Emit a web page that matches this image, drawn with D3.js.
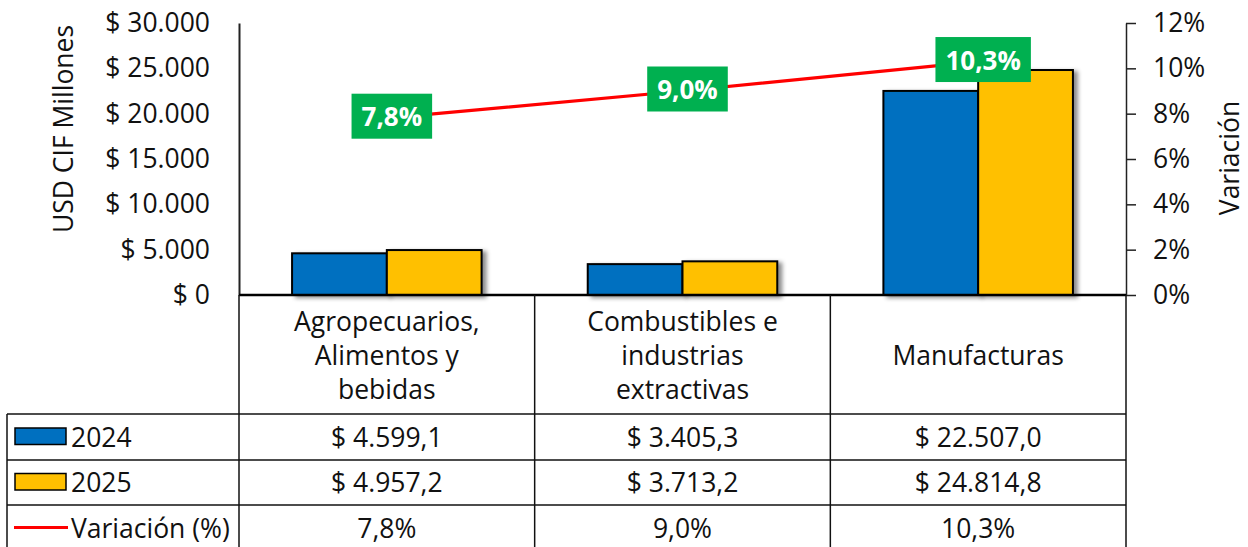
<!DOCTYPE html>
<html>
<head>
<meta charset="utf-8">
<script src="https://cdn.jsdelivr.net/npm/d3@7"></script>
<style>
  html, body { margin: 0; padding: 0; background: #fff; }
  svg { display: block; font-family: "Open Sans", sans-serif; }
</style>
</head>
<body>
<svg id="chart" width="1248" height="547"></svg>
<script>
// ---- Data ----
const categories = ["Agropecuarios, Alimentos y bebidas", "Combustibles e industrias extractivas", "Manufacturas"];
const categoryLines = [["Agropecuarios,", "Alimentos y", "bebidas"], ["Combustibles e", "industrias", "extractivas"], ["Manufacturas"]];
const seriesNames = ["2024", "2025"];
const values2024 = [4599.1, 3405.3, 22507.0];
const values2025 = [4957.2, 3713.2, 24814.8];
const variacion = [7.8, 9.0, 10.3];
const variacionName = "Variación (%)";
const leftTicks = [0, 5000, 10000, 15000, 20000, 25000, 30000];
const rightTicks = [0, 2, 4, 6, 8, 10, 12];
const leftTitle = "USD CIF Millones";
const rightTitle = "Variación";

// ---- Style ----
const colors = ["#0070C0", "#FFC000"];
const lineColor = "#FF0000";
const labelBg = "#00B050";
const textColor = "#111";
const fs = 26.5;

const loc = d3.formatLocale({decimal: ",", thousands: ".", grouping: [3], currency: ["$ ", ""]});
const fmtMoney = loc.format("$,.1f");
const fmtTick = loc.format("$,.0f");
const fmtPct1 = v => loc.format(".1f")(v) + "%";

const svg = d3.select("#chart");
const L = 239, R = 1126, T = 23, B = 295;
const rowLines = [414, 460, 505, 551];
const tableLeft = 7;

const defs = svg.append("defs");
const f = defs.append("filter").attr("id", "shadow").attr("x", "-20%").attr("y", "-20%").attr("width", "150%").attr("height", "150%");
f.append("feDropShadow").attr("dx", 4).attr("dy", 2).attr("stdDeviation", 2.2).attr("flood-color", "#000").attr("flood-opacity", 0.45);

const x = d3.scaleBand().domain(categories).range([L, R]).padding(0);
const x1 = d3.scaleBand().domain(seriesNames).range([0, x.bandwidth()]).paddingInner(0).paddingOuter(0.56);
const y = d3.scaleLinear().domain([0, 30000]).range([B, T]);
const y2 = d3.scaleLinear().domain([0, 12]).range([B, T]);

// ---- Bars ----
const seriesVals = [values2024, values2025];
const barData = [];
categories.forEach((c, i) => seriesNames.forEach((s, j) => barData.push({c, s, v: seriesVals[j][i], j})));
svg.append("g").selectAll("rect").data(barData).join("rect")
  .attr("x", d => x(d.c) + x1(d.s))
  .attr("y", d => y(d.v))
  .attr("width", x1.bandwidth())
  .attr("height", d => y(0) - y(d.v))
  .attr("fill", d => colors[d.j])
  .attr("stroke", "#000")
  .attr("stroke-width", 2)
  .attr("filter", "url(#shadow)");

// ---- Axes ----
const gl = svg.append("g").attr("transform", `translate(${L},0)`)
  .call(d3.axisLeft(y).tickValues(leftTicks).tickFormat(fmtTick).tickSize(0).tickPadding(29));
gl.select(".domain").attr("stroke", "#222").attr("stroke-width", 2);
gl.selectAll("text").attr("font-size", fs).attr("fill", textColor).attr("font-family", "Open Sans");

const gr = svg.append("g").attr("transform", `translate(${R},0)`)
  .call(d3.axisRight(y2).tickValues(rightTicks).tickFormat(d => d + "%").tickSizeInner(10).tickSizeOuter(0).tickPadding(17));
gr.select(".domain").attr("stroke", "#222").attr("stroke-width", 1.5);
gr.selectAll(".tick line").attr("stroke", "#222").attr("stroke-width", 1.5);
gr.selectAll("text").attr("font-size", fs).attr("fill", textColor).attr("font-family", "Open Sans");

// x axis baseline
svg.append("line").attr("x1", L).attr("x2", R).attr("y1", y(0)).attr("y2", y(0))
  .attr("stroke", "#000").attr("stroke-width", 2.5);

// axis titles
svg.append("text").attr("transform", `translate(63,129) rotate(-90)`)
  .attr("text-anchor", "middle").attr("dominant-baseline", "central")
  .attr("font-size", fs).attr("fill", textColor).text(leftTitle);
svg.append("text").attr("transform", `translate(1229,158) rotate(-90)`)
  .attr("text-anchor", "middle").attr("dominant-baseline", "central")
  .attr("font-size", fs).attr("fill", textColor).text(rightTitle);

// ---- Line ----
const pts = categories.map((c, i) => [x(c) + x.bandwidth() / 2, y2(variacion[i])]);
svg.append("path").attr("d", d3.line()(pts)).attr("fill", "none")
  .attr("stroke", lineColor).attr("stroke-width", 3.2);

// labels
const lbl = svg.append("g").selectAll("g").data(categories).join("g")
  .attr("transform", (c, i) => `translate(${x(c) + x.bandwidth() / 2 + 5},${y2(variacion[i]) - 2})`);
lbl.each(function(c, i) {
  const g = d3.select(this);
  const t = g.append("text").attr("text-anchor", "middle").attr("dominant-baseline", "central")
    .attr("font-size", 26).attr("font-weight", "bold").attr("fill", "#fff").text(fmtPct1(variacion[i]));
  const w = t.node().getComputedTextLength() + 20;
  g.insert("rect", "text").attr("x", -w / 2).attr("y", -22.5).attr("width", w).attr("height", 45).attr("fill", labelBg);
});

// ---- Table ----
const tg = svg.append("g").attr("stroke", "#111").attr("stroke-width", 1.5);
[L, ...categories.map(c => x(c) + x.bandwidth())].forEach(vx => {
  tg.append("line").attr("x1", vx).attr("x2", vx).attr("y1", B).attr("y2", 551);
});
tg.append("line").attr("x1", tableLeft).attr("x2", tableLeft).attr("y1", rowLines[0]).attr("y2", 551);
rowLines.forEach(ry => tg.append("line").attr("x1", tableLeft).attr("x2", R).attr("y1", ry).attr("y2", ry));

// header text
const headCenter = (B + rowLines[0]) / 2;
categories.forEach((c, i) => {
  const lines = categoryLines[i];
  const t = svg.append("text").attr("text-anchor", "middle").attr("font-size", fs).attr("fill", textColor);
  lines.forEach((ln, k) => {
    t.append("tspan").attr("x", x(c) + x.bandwidth() / 2)
      .attr("y", headCenter + (k - (lines.length - 1) / 2) * 34)
      .attr("dominant-baseline", "central").text(ln);
  });
});

// rows
const rows = [
  {name: seriesNames[0], vals: values2024.map(fmtMoney), type: "bar", color: colors[0]},
  {name: seriesNames[1], vals: values2025.map(fmtMoney), type: "bar", color: colors[1]},
  {name: variacionName, vals: variacion.map(fmtPct1), type: "line", color: lineColor}
];
rows.forEach((r, i) => {
  const cy = (rowLines[i] + rowLines[i + 1]) / 2 - 0.5;
  if (r.type === "bar") {
    svg.append("rect").attr("x", 15).attr("y", cy - 8.5).attr("width", 51).attr("height", 16.5)
      .attr("fill", r.color).attr("stroke", "#000").attr("stroke-width", 1.5);
  } else {
    svg.append("line").attr("x1", 14).attr("x2", 68).attr("y1", cy).attr("y2", cy)
      .attr("stroke", r.color).attr("stroke-width", 3.2);
  }
  svg.append("text").attr("x", 71).attr("y", cy).attr("dominant-baseline", "central")
    .attr("font-size", fs).attr("fill", textColor).text(r.name);
  categories.forEach((c, k) => {
    svg.append("text").attr("x", x(c) + x.bandwidth() / 2).attr("y", cy)
      .attr("text-anchor", "middle").attr("dominant-baseline", "central")
      .attr("font-size", fs).attr("fill", textColor).text(r.vals[k]);
  });
});
</script>
</body>
</html>
